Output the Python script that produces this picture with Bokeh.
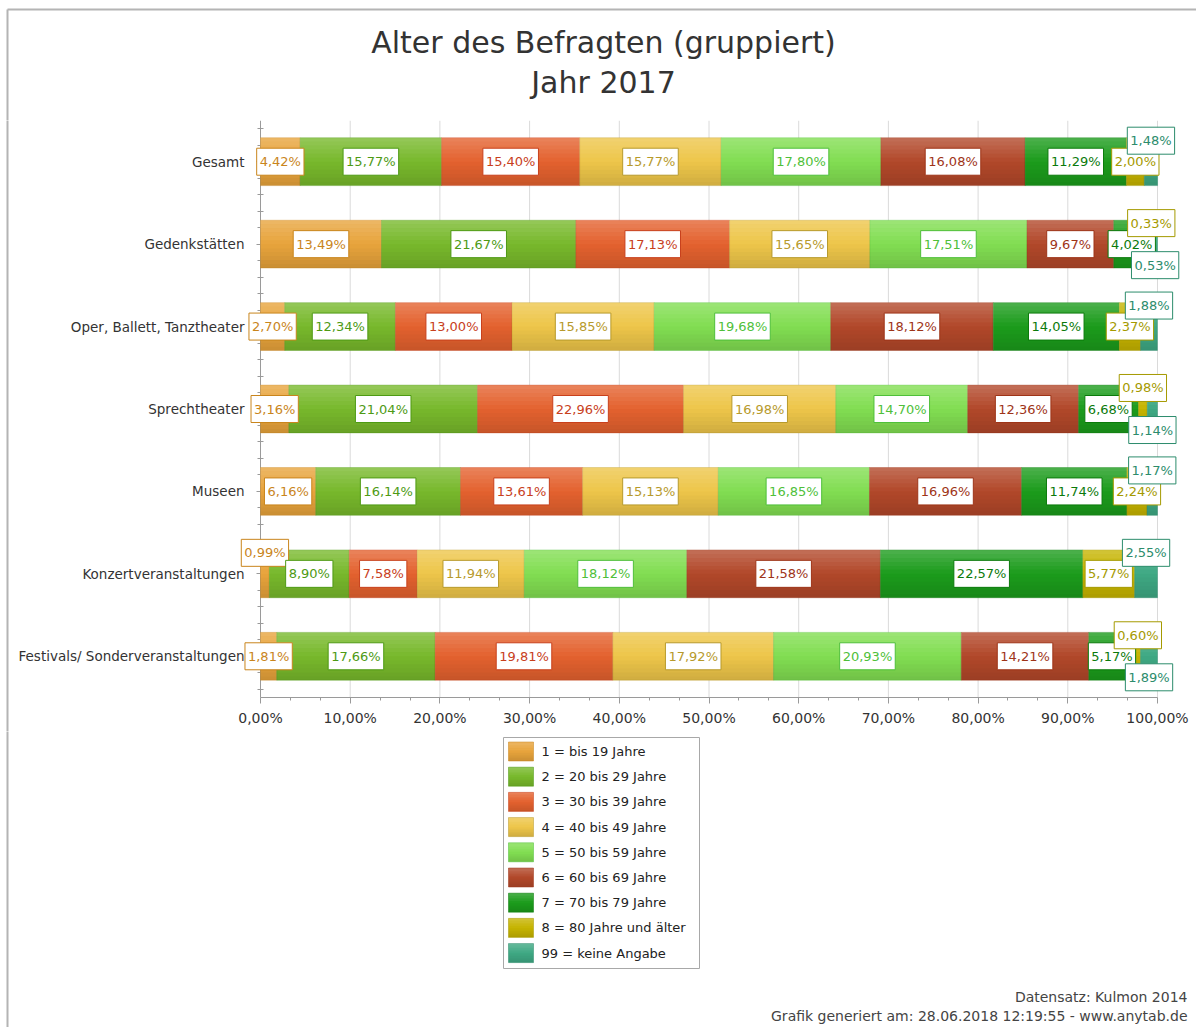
from bokeh.plotting import figure
from bokeh.models import ColumnDataSource, Range1d, FixedTicker, CustomJSTickFormatter
from bokeh.layouts import column
from bokeh.core.properties import value
from bokeh.embed import file_html
from bokeh.resources import INLINE

# ---------------- data ----------------
categories = ["Gesamt", "Gedenkstätten", "Oper, Ballett, Tanztheater", "Sprechtheater",
              "Museen", "Konzertveranstaltungen", "Festivals/ Sonderveranstaltungen"]
series = ["1 = bis 19 Jahre", "2 = 20 bis 29 Jahre", "3 = 30 bis 39 Jahre", "4 = 40 bis 49 Jahre",
          "5 = 50 bis 59 Jahre", "6 = 60 bis 69 Jahre", "7 = 70 bis 79 Jahre",
          "8 = 80 Jahre und älter", "99 = keine Angabe"]
s1 = [4.42, 13.49, 2.70, 3.16, 6.16, 0.99, 1.81]
s2 = [15.77, 21.67, 12.34, 21.04, 16.14, 8.90, 17.66]
s3 = [15.40, 17.13, 13.00, 22.96, 13.61, 7.58, 19.81]
s4 = [15.77, 15.65, 15.85, 16.98, 15.13, 11.94, 17.92]
s5 = [17.80, 17.51, 19.68, 14.70, 16.85, 18.12, 20.93]
s6 = [16.08, 9.67, 18.12, 12.36, 16.96, 21.58, 14.21]
s7 = [11.29, 4.02, 14.05, 6.68, 11.74, 22.57, 5.17]
s8 = [2.00, 0.33, 2.37, 0.98, 2.24, 5.77, 0.60]
s99 = [1.48, 0.53, 1.88, 1.14, 1.17, 2.55, 1.89]
values_all = [s1, s2, s3, s4, s5, s6, s7, s8, s99]
x_major_ticks = [0, 10, 20, 30, 40, 50, 60, 70, 80, 90, 100]
title_lines = ["Alter des Befragten (gruppiert)", "Jahr 2017"]
footer_lines = ["Datensatz: Kulmon 2014", "Grafik generiert am: 28.06.2018 12:19:55 - www.anytab.de"]

# ---------------- styles ----------------
fill_colors = ["#E8A43C", "#78B92C", "#E4622F", "#EEC64A", "#82DE52", "#B2482A", "#1C9C1C", "#C6B400", "#3FA984"]
text_colors = ["#C9851C", "#4E9A14", "#C8401C", "#B79A2C", "#4FBF3A", "#9E3418", "#0B7A0B", "#A59A00", "#2C8C6C"]
# label displacement: -1 above bar, +1 below bar (row, series index)
label_shift = {(0, 8): -1, (1, 7): -1, (1, 8): 1, (2, 8): -1, (3, 7): -1, (3, 8): 1,
               (4, 8): -1, (5, 0): -1, (5, 8): -1, (6, 7): -1, (6, 8): 1}
FONT = "DejaVu Sans"
BAR_H = 0.58
SHIFT = 0.255
BORDER_C = "#B4B4B4"
AXIS_C = "#9A9A9A"
GRID_C = "#DADADA"

W = 1196
AX0, AX100 = 260, 1157        # pixel positions of 0 % and 100 %
PPU = (AX100 - AX0) / 100.0   # pixels per percent
TITLE_H, BOTTOM_H = 120, 296
FRAME_PLOT_H = 577            # height of the bar area
MAIN_H = 611                  # bar area + x-axis labels
N_STRIPS = 12


def px2x(px):
    return (px - AX0) / PPU


def shade(t):
    if t < 0.5:
        return "white", 0.22 * (0.5 - t) * 2
    return "black", 0.13 * (t - 0.5) * 2


def side_fig(h):
    f = figure(width=W, height=h, frame_width=W, frame_height=h,
               min_border=0, x_range=Range1d(0, W), y_range=Range1d(h, 0),
               x_axis_location=None, y_axis_location=None,
               toolbar_location=None, output_backend="svg")
    f.grid.visible = False
    f.outline_line_color = None
    return f


# ---------------- title figure ----------------
pt = side_fig(TITLE_H)
pt.line(x=[7, W], y=[9, 9], line_color=BORDER_C, line_width=2)
pt.line(x=[7, 7], y=[9, TITLE_H + 2], line_color=BORDER_C, line_width=2)
pt.text(x=[603, 603], y=[42, 82], text=title_lines, text_align="center",
        text_baseline="middle", text_font=value(FONT), text_font_size="30px", text_color="#333333")

# ---------------- main chart ----------------
keys = ["s%d" % i for i in range(len(series))]
n_cat = len(categories)
data = {"y": list(range(n_cat))}
for k, vals in zip(keys, values_all):
    data[k] = vals
totals = [sum(v[i] for v in values_all) for i in range(n_cat)]
src = ColumnDataSource(data)

ppy = FRAME_PLOT_H / n_cat
y_top, y_bot = -0.5, n_cat - 0.5
p = figure(width=W, height=MAIN_H, frame_width=W, frame_height=MAIN_H, min_border=0,
           x_range=Range1d(px2x(0), px2x(W)),
           y_range=Range1d(y_top + MAIN_H / ppy, y_top),
           toolbar_location=None, output_backend="svg")
p.outline_line_color = None
p.grid.visible = False

# outer frame line on the left
p.line(x=[px2x(7), px2x(7)], y=[y_top - 1, y_top + MAIN_H / ppy + 1], line_color=BORDER_C, line_width=2)

# vertical grid lines in the bar area only
grid_x = x_major_ticks[1:]
p.segment(x0=grid_x, y0=[y_top] * len(grid_x), x1=grid_x,
          y1=[y_bot] * len(grid_x), line_color=GRID_C, line_width=1)

p.hbar_stack(keys, y="y", height=BAR_H, source=src, fill_color=fill_colors,
             line_color=text_colors, line_alpha=0.35, line_width=1)

# vertical gradient shading over bars
for i in range(N_STRIPS):
    t = (i + 0.5) / N_STRIPS
    col, alpha = shade(t)
    ys = [yy + (t - 0.5) * BAR_H for yy in data["y"]]
    p.hbar(y=ys, left=0, right=totals, height=BAR_H / N_STRIPS, fill_color=col,
           fill_alpha=alpha, line_color=None)

# data labels
lx, ly, lt, lc = [], [], [], []
for r in range(n_cat):
    cum = 0.0
    for si, vals in enumerate(values_all):
        v = vals[r]
        lx.append(cum + v / 2)
        ly.append(r + label_shift.get((r, si), 0) * SHIFT)
        lt.append(("%.2f" % v).replace(".", ",") + "%")
        lc.append(text_colors[si])
        cum += v
lsrc = ColumnDataSource(dict(x=lx, y=ly, text=lt, color=lc))
p.text(x="x", y="y", text="text", source=lsrc, text_align="center", text_baseline="middle",
       text_font=value(FONT), text_font_size="13px", text_color="color",
       background_fill_color="white", border_line_color="color", border_line_width=1,
       padding=(3, 6))

# axes (drawn at fixed data positions so the frame can span the whole width)
minor_x = [round(10 * k / 3.0, 4) for k in range(31) if k % 3]
p.xaxis.ticker = FixedTicker(ticks=x_major_ticks, minor_ticks=minor_x)
p.xaxis.formatter = CustomJSTickFormatter(code="return tick.toFixed(2).replace('.', ',') + '%';")
p.xaxis.fixed_location = y_bot
p.xaxis.bounds = (x_major_ticks[0], x_major_ticks[-1])
p.yaxis.ticker = FixedTicker(ticks=data["y"],
                             minor_ticks=[round(-0.4 + 0.2 * k, 2) for k in range(35)])
p.yaxis.major_label_overrides = {i: c for i, c in enumerate(categories)}
p.yaxis.fixed_location = 0
p.yaxis.bounds = (y_top, y_bot)
p.yaxis.level = "underlay"   # data labels are drawn over the category axis
for ax in (p.xaxis[0], p.yaxis[0]):
    ax.axis_line_color = AXIS_C
    ax.major_tick_line_color = AXIS_C
    ax.minor_tick_line_color = AXIS_C
    ax.major_label_text_font = FONT
    ax.major_label_text_color = "#333333"
p.xaxis.major_label_text_font_size = "14px"
p.yaxis.major_label_text_font_size = "13.5px"
p.xaxis.major_tick_out = 6
p.xaxis.major_tick_in = 0
p.xaxis.minor_tick_out = 3
p.xaxis.minor_tick_in = 0
p.xaxis.major_label_standoff = 6
p.yaxis.major_tick_out = 4
p.yaxis.major_tick_in = 3
p.yaxis.minor_tick_out = 3
p.yaxis.minor_tick_in = 3
p.yaxis.major_label_standoff = 12

# ---------------- legend + footer ----------------
pb = side_fig(BOTTOM_H)
pb.line(x=[7, 7], y=[-2, BOTTOM_H], line_color=BORDER_C, line_width=2)
LEG_L, LEG_T, ITEM, SW_W, SW_H = 503, 6, 25.2, 25, 19
pb.quad(left=[LEG_L], right=[LEG_L + 196], top=[LEG_T], bottom=[LEG_T + 231],
        fill_color="white", line_color="#A8A8A8", line_width=1)
item_y = [LEG_T + 14 + ITEM * i for i in range(len(series))]
sw_x = [LEG_L + 17.5] * len(series)
pb.rect(x=sw_x, y=item_y, width=SW_W, height=SW_H, fill_color=fill_colors, line_color=None)
for i in range(N_STRIPS):
    t = (i + 0.5) / N_STRIPS
    col, alpha = shade(t)
    pb.rect(x=sw_x, y=[yy + (t - 0.5) * SW_H for yy in item_y], width=SW_W,
            height=SW_H / N_STRIPS, fill_color=col, fill_alpha=alpha, line_color=None)
pb.rect(x=sw_x, y=item_y, width=SW_W, height=SW_H, fill_color=None,
        line_color=text_colors, line_alpha=0.5)
pb.text(x=[LEG_L + 38] * len(series), y=item_y, text=series, text_align="left",
        text_baseline="middle", text_font=value(FONT), text_font_size="13px", text_color="#222222")

pb.text(x=[1187, 1187], y=[265, 284], text=footer_lines, text_align="right",
        text_baseline="middle", text_font=value(FONT), text_font_size="14px", text_color="#444444")

layout = column(pt, p, pb, spacing=0)
open("out.html", "w").write(file_html(layout, INLINE))
